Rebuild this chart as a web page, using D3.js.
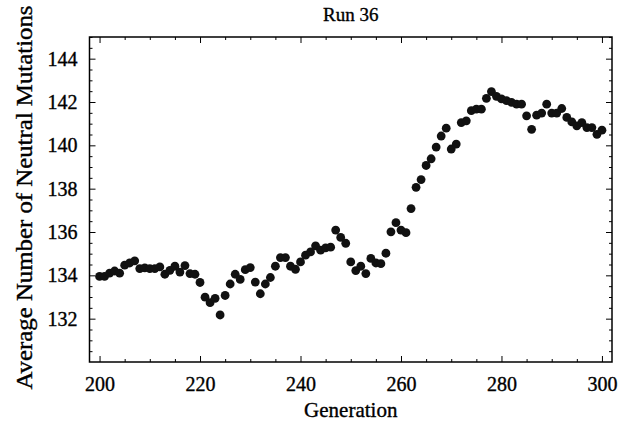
<!DOCTYPE html>
<html>
<head>
<meta charset="utf-8">
<script src="https://d3js.org/d3.v7.min.js"></script>
<style>
  body { margin: 0; background: #fff; }
  text { font-family: "Liberation Serif", "Times New Roman", serif; fill: #000; stroke: #000; stroke-width: 0.35px; }
</style>
</head>
<body>
<svg></svg>
<script>
var w = 627,
    h = 424;

// generations 200..300
var generations = d3.range(200, 301);
var avgMutations = [
  133.95, 133.95, 134.1, 134.2, 134.1, 134.47, 134.57, 134.67, 134.31, 134.34,
  134.31, 134.31, 134.39, 134.05, 134.23, 134.42, 134.15, 134.45, 134.08, 134.05,
  133.67, 132.99, 132.74, 132.94, 132.17, 133.07, 133.6, 134.05, 133.81, 134.26,
  134.36, 133.69, 133.15, 133.6, 133.9, 134.42, 134.82, 134.82, 134.42, 134.28,
  134.62, 134.93, 135.08, 135.36, 135.16, 135.27, 135.3, 136.09, 135.75, 135.48,
  134.62, 134.22, 134.42, 134.08, 134.78, 134.57, 134.54, 135.02, 136.01, 136.43,
  136.09, 135.97, 137.08, 138.06, 138.42, 139.07, 139.38, 139.92, 140.43, 140.79,
  139.83, 140.06, 141.05, 141.13, 141.6, 141.67, 141.67, 142.17, 142.48, 142.26,
  142.14, 142.06, 141.98, 141.9, 141.9, 141.36, 140.74, 141.39, 141.49, 141.9,
  141.49, 141.49, 141.7, 141.29, 141.08, 140.9, 141.05, 140.82, 140.82, 140.51,
  140.7
];
var xTicks = [200, 220, 240, 260, 280, 300];
var yTicks = [132, 134, 136, 138, 140, 142, 144];

var margin = {top: 37, right: 15, bottom: 62, left: 89.5};

var x = d3.scaleLinear()
  .domain([198, 302])
  .range([margin.left, w - margin.right]);

var y = d3.scaleLinear()
  .domain([130, 145])
  .range([h - margin.bottom, margin.top]);

var svg = d3.select("svg")
  .attr("width", w)
  .attr("height", h);

var data = generations.map(function(g, i){ return {g: g, v: avgMutations[i]}; });

// frame ticks on all four sides, pointing inward
var xMinor = d3.range(200, 301, 5).filter(function(d){ return d % 20 !== 0; });
var yMinor = d3.range(130, 145.01, 0.5).filter(function(d){ return d % 2 !== 0; });

function frameAxis(axis, pos, major, minor, labels) {
  var g = svg.append("g").attr("transform", pos);
  g.call(axis(major, 6, labels));
  g.call(axis(minor, 3, false));
  return g;
}

function mk(gen, scale) {
  return function(vals, size, labels) {
    return function(sel) {
      var a = gen(scale).tickValues(vals).tickSizeInner(-size).tickSizeOuter(0).tickPadding(size === 6 ? 12 : 0);
      if (!labels) a.tickFormat("");
      var g = sel.append("g").call(a);
      g.select(".domain").remove();
      g.selectAll("line").attr("stroke", "#000").attr("stroke-width", 1);
      g.selectAll("text").style("font-size", "20px").attr("font-family", null);
    };
  };
}

frameAxis(mk(d3.axisBottom, x), "translate(0," + y(130) + ")", xTicks, xMinor, true)
  .selectAll("text").attr("dy", "0.85em");
frameAxis(mk(d3.axisTop, x), "translate(0," + y(145) + ")", xTicks, xMinor, false);
frameAxis(mk(d3.axisLeft, y), "translate(" + x(198) + ",0)", yTicks, yMinor, true);
frameAxis(mk(d3.axisRight, y), "translate(" + x(302) + ",0)", yTicks, yMinor, false);

svg.append("rect")
  .attr("x", x(198))
  .attr("y", y(145))
  .attr("width", x(302) - x(198))
  .attr("height", y(130) - y(145))
  .attr("fill", "none")
  .attr("stroke", "#000")
  .attr("stroke-width", 1.5);

svg.selectAll("circle.pt")
  .data(data)
  .enter()
  .append("circle")
  .attr("class", "pt")
  .attr("cx", function(d){ return x(d.g); })
  .attr("cy", function(d){ return y(d.v); })
  .attr("r", 4.4)
  .attr("fill", "#111");

svg.append("text")
  .attr("x", (x(198) + x(302)) / 2)
  .attr("y", 21)
  .attr("text-anchor", "middle")
  .style("font-size", "19px")
  .text("Run 36");

svg.append("text")
  .attr("x", (x(198) + x(302)) / 2)
  .attr("y", 417)
  .attr("text-anchor", "middle")
  .style("font-size", "21px")
  .text("Generation");

svg.append("text")
  .attr("transform", "translate(32," + ((y(130) + y(145)) / 2 - 2) + ") rotate(-90)")
  .attr("text-anchor", "middle")
  .attr("textLength", 384)
  .attr("lengthAdjust", "spacingAndGlyphs")
  .style("font-size", "23px")
  .text("Average Number of Neutral Mutations");
</script>
</body>
</html>
